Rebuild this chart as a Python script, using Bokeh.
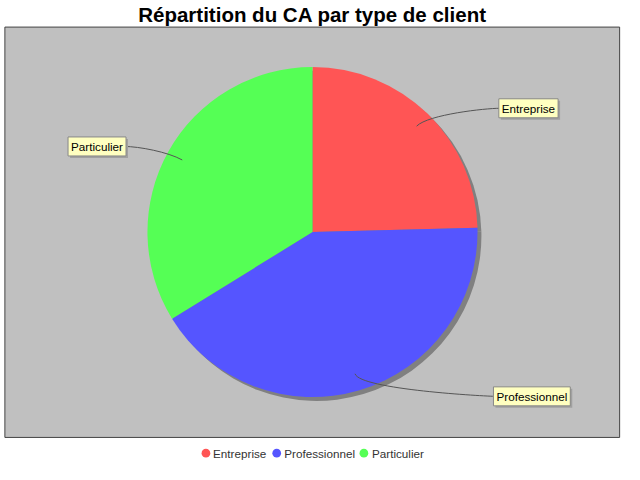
import numpy as np
from bokeh.plotting import figure
from bokeh.models import Range1d
from bokeh.core.properties import value
from bokeh.embed import file_html
from bokeh.resources import INLINE

# ---- data ----
categories = ["Entreprise", "Professionnel", "Particulier"]
values = [24.6, 41.6, 33.8]
colors = ["#FF5555", "#5555FF", "#55FF55"]
title_text = "Répartition du CA par type de client"

# ---- layout helpers (reference pixel space -> figure space) ----
W, H = 624, 464
kx, ky = W / 640, H / 480
k = (kx + ky) / 2


def tx(x):
    return np.asarray(x, dtype=float) * kx


def ty(y):
    return H - np.asarray(y, dtype=float) * ky


p = figure(width=W, height=H, x_range=Range1d(0, W), y_range=Range1d(0, H),
           output_backend="svg", toolbar_location=None, min_border=0,
           x_axis_type=None, y_axis_type=None)
p.grid.visible = False
p.outline_line_color = None
p.background_fill_color = "white"
p.border_fill_color = "white"

FONT = value("Liberation Sans")

# plot area
p.quad(left=tx(4.5), right=tx(635), top=ty(27.5), bottom=ty(452),
       fill_color="#C0C0C0", line_color="#444444", line_width=1)

# title
p.text(x=[tx(320)], y=[ty(14)], text=[title_text], text_font=FONT,
       text_font_size="20.5px", text_font_style="bold", text_color="black",
       text_align="center", text_baseline="middle")

# pie
frac = np.array(values) / np.sum(values)
cum = np.concatenate([[0.0], np.cumsum(frac)])
start = np.pi / 2 - cum[1:] * 2 * np.pi
end = np.pi / 2 - cum[:-1] * 2 * np.pi
cx, cy, R = 320.0, 239.5, 170.0

p.wedge(x=float(tx(cx)) + 4 * k, y=float(ty(cy)) - 4 * k, radius=R * k,
        radius_units="screen", start_angle=start, end_angle=end,
        fill_color="#808080", line_color=None)
p.wedge(x=float(tx(cx)), y=float(ty(cy)), radius=R * k, radius_units="screen",
        start_angle=start, end_angle=end, fill_color=colors, line_color=None)

# label links (cubic curves)
mid = (cum[:-1] + cum[1:]) / 2 * 2 * np.pi  # clockwise from top
dx, dy = np.sin(mid), -np.cos(mid)
link_x, link_y = cx + 0.9 * R * dx, cy + 0.9 * R * dy
elb_x, elb_y = cx + 1.0 * R * dx, cy + 1.0 * R * dy
lab_end_x = np.array([511.5, 508.0, 127.0])
lab_y = np.array([111.5, 409.5, 151.0])
lab_cx = np.array([541.5, 545.0, 99.0])
anchor_x = np.where(dx > 0, 498.0, 142.0)

p.bezier(x0=tx(lab_end_x), y0=ty(lab_y), x1=tx(link_x), y1=ty(link_y),
         cx0=tx(anchor_x), cy0=ty(lab_y), cx1=tx(elb_x), cy1=ty(elb_y),
         line_color="#555555", line_width=1)

# label boxes: shadow then box
p.text(x=tx(lab_cx) + 2, y=ty(lab_y) - 2, text=categories, text_font=FONT,
       text_font_size="11.7px", text_alpha=0.0, text_align="center",
       text_baseline="middle", background_fill_color="#A0A0A0",
       border_line_color=None, padding=3)
p.text(x=tx(lab_cx), y=ty(lab_y), text=categories, text_font=FONT,
       text_font_size="11.7px", text_color="black", text_align="center",
       text_baseline="middle", background_fill_color="#FFFFC0",
       border_line_color="#888888", padding=3)

# legend
leg_dot_x = np.array([210.7, 283.3, 372.7])
leg_txt_x = np.array([218.0, 291.0, 381.0])
leg_y = 468.3
p.scatter(x=tx(leg_dot_x), y=[float(ty(leg_y))] * 3, size=9 * k, marker="circle",
          fill_color=colors, line_color=None)
p.text(x=tx(leg_txt_x), y=[float(ty(leg_y))] * 3, text=categories, text_font=FONT,
       text_font_size="11.7px", text_color="#333333", text_align="left",
       text_baseline="middle")

open("out.html", "w").write(file_html(p, INLINE))
